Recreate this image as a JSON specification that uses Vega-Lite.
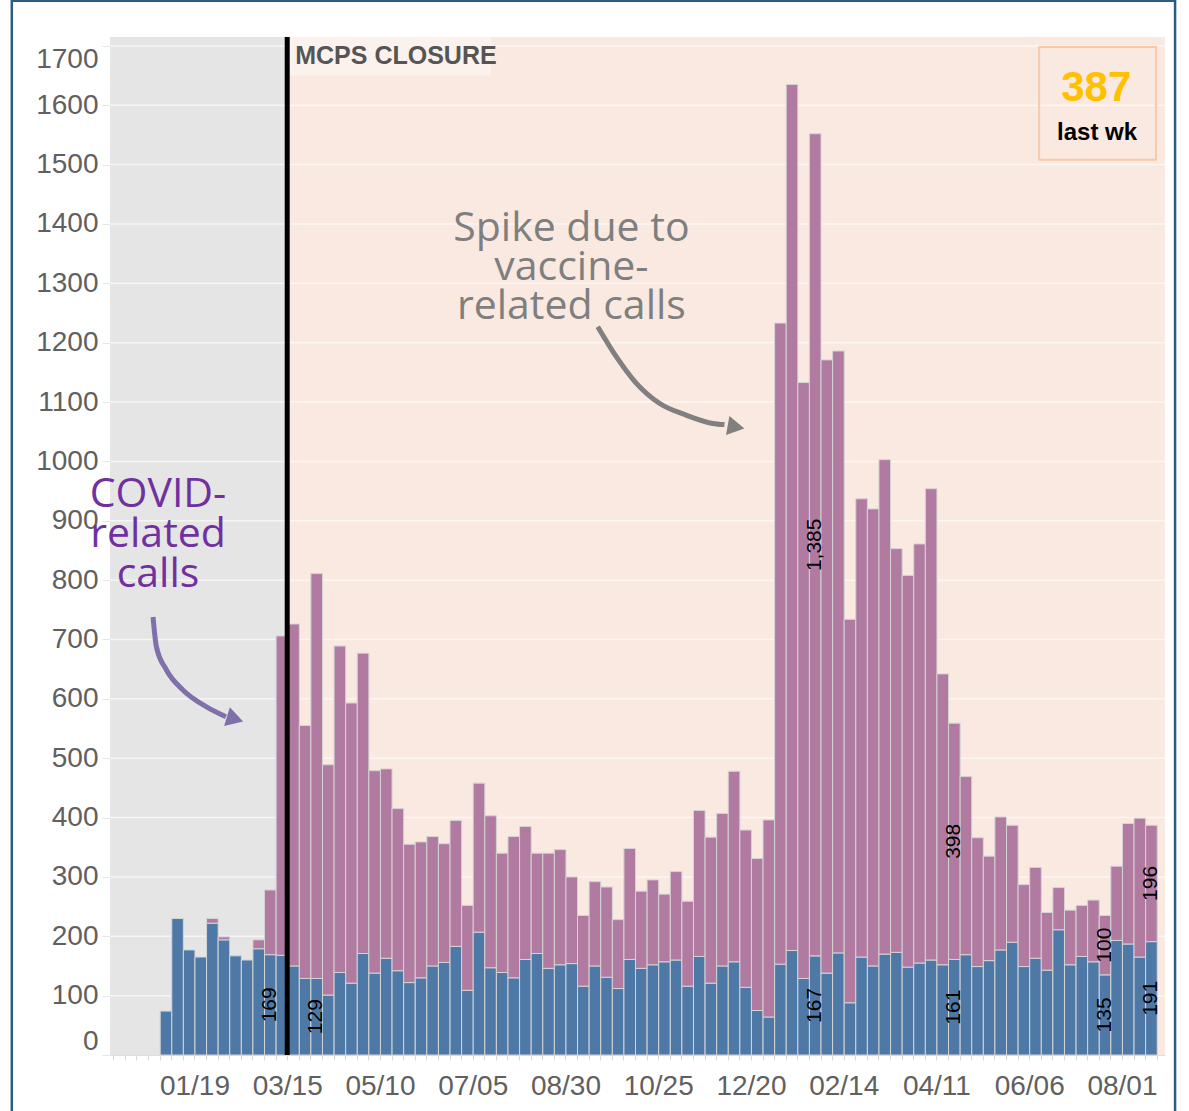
{
  "$schema": "https://vega.github.io/schema/vega-lite/v6.json",
  "width": 1055,
  "height": 1018,
  "autosize": {"type": "none"},
  "padding": {"left": 110, "top": 37, "right": 24, "bottom": 56},
  "background": "white",
  "config": {"view": {"stroke": null}},
  "datasets": {
    "calls": [
      {"week": "2019-12-29", "type": "Other", "calls": 74},
      {"week": "2020-01-05", "type": "Other", "calls": 230},
      {"week": "2020-01-12", "type": "Other", "calls": 177},
      {"week": "2020-01-19", "type": "Other", "calls": 165},
      {"week": "2020-01-26", "type": "Other", "calls": 222},
      {"week": "2020-01-26", "type": "COVID-related", "calls": 8},
      {"week": "2020-02-02", "type": "Other", "calls": 194},
      {"week": "2020-02-02", "type": "COVID-related", "calls": 5},
      {"week": "2020-02-09", "type": "Other", "calls": 167},
      {"week": "2020-02-16", "type": "Other", "calls": 160},
      {"week": "2020-02-23", "type": "Other", "calls": 179},
      {"week": "2020-02-23", "type": "COVID-related", "calls": 15},
      {"week": "2020-03-01", "type": "Other", "calls": 169, "lab": 1},
      {"week": "2020-03-01", "type": "COVID-related", "calls": 109},
      {"week": "2020-03-08", "type": "Other", "calls": 168},
      {"week": "2020-03-08", "type": "COVID-related", "calls": 538},
      {"week": "2020-03-15", "type": "Other", "calls": 150},
      {"week": "2020-03-15", "type": "COVID-related", "calls": 576},
      {"week": "2020-03-22", "type": "Other", "calls": 129},
      {"week": "2020-03-22", "type": "COVID-related", "calls": 426},
      {"week": "2020-03-29", "type": "Other", "calls": 129, "lab": 1},
      {"week": "2020-03-29", "type": "COVID-related", "calls": 682},
      {"week": "2020-04-05", "type": "Other", "calls": 101},
      {"week": "2020-04-05", "type": "COVID-related", "calls": 388},
      {"week": "2020-04-12", "type": "Other", "calls": 139},
      {"week": "2020-04-12", "type": "COVID-related", "calls": 550},
      {"week": "2020-04-19", "type": "Other", "calls": 121},
      {"week": "2020-04-19", "type": "COVID-related", "calls": 472},
      {"week": "2020-04-26", "type": "Other", "calls": 171},
      {"week": "2020-04-26", "type": "COVID-related", "calls": 506},
      {"week": "2020-05-03", "type": "Other", "calls": 138},
      {"week": "2020-05-03", "type": "COVID-related", "calls": 341},
      {"week": "2020-05-10", "type": "Other", "calls": 163},
      {"week": "2020-05-10", "type": "COVID-related", "calls": 319},
      {"week": "2020-05-17", "type": "Other", "calls": 142},
      {"week": "2020-05-17", "type": "COVID-related", "calls": 273},
      {"week": "2020-05-24", "type": "Other", "calls": 122},
      {"week": "2020-05-24", "type": "COVID-related", "calls": 233},
      {"week": "2020-05-31", "type": "Other", "calls": 130},
      {"week": "2020-05-31", "type": "COVID-related", "calls": 229},
      {"week": "2020-06-07", "type": "Other", "calls": 150},
      {"week": "2020-06-07", "type": "COVID-related", "calls": 218},
      {"week": "2020-06-14", "type": "Other", "calls": 156},
      {"week": "2020-06-14", "type": "COVID-related", "calls": 200},
      {"week": "2020-06-21", "type": "Other", "calls": 183},
      {"week": "2020-06-21", "type": "COVID-related", "calls": 212},
      {"week": "2020-06-28", "type": "Other", "calls": 109},
      {"week": "2020-06-28", "type": "COVID-related", "calls": 143},
      {"week": "2020-07-05", "type": "Other", "calls": 207},
      {"week": "2020-07-05", "type": "COVID-related", "calls": 251},
      {"week": "2020-07-12", "type": "Other", "calls": 147},
      {"week": "2020-07-12", "type": "COVID-related", "calls": 256},
      {"week": "2020-07-19", "type": "Other", "calls": 139},
      {"week": "2020-07-19", "type": "COVID-related", "calls": 201},
      {"week": "2020-07-26", "type": "Other", "calls": 130},
      {"week": "2020-07-26", "type": "COVID-related", "calls": 238},
      {"week": "2020-08-02", "type": "Other", "calls": 161},
      {"week": "2020-08-02", "type": "COVID-related", "calls": 224},
      {"week": "2020-08-09", "type": "Other", "calls": 171},
      {"week": "2020-08-09", "type": "COVID-related", "calls": 169},
      {"week": "2020-08-16", "type": "Other", "calls": 146},
      {"week": "2020-08-16", "type": "COVID-related", "calls": 194},
      {"week": "2020-08-23", "type": "Other", "calls": 152},
      {"week": "2020-08-23", "type": "COVID-related", "calls": 194},
      {"week": "2020-08-30", "type": "Other", "calls": 154},
      {"week": "2020-08-30", "type": "COVID-related", "calls": 146},
      {"week": "2020-09-06", "type": "Other", "calls": 116},
      {"week": "2020-09-06", "type": "COVID-related", "calls": 119},
      {"week": "2020-09-13", "type": "Other", "calls": 150},
      {"week": "2020-09-13", "type": "COVID-related", "calls": 142},
      {"week": "2020-09-20", "type": "Other", "calls": 131},
      {"week": "2020-09-20", "type": "COVID-related", "calls": 152},
      {"week": "2020-09-27", "type": "Other", "calls": 112},
      {"week": "2020-09-27", "type": "COVID-related", "calls": 116},
      {"week": "2020-10-04", "type": "Other", "calls": 161},
      {"week": "2020-10-04", "type": "COVID-related", "calls": 187},
      {"week": "2020-10-11", "type": "Other", "calls": 146},
      {"week": "2020-10-11", "type": "COVID-related", "calls": 130},
      {"week": "2020-10-18", "type": "Other", "calls": 152},
      {"week": "2020-10-18", "type": "COVID-related", "calls": 143},
      {"week": "2020-10-25", "type": "Other", "calls": 157},
      {"week": "2020-10-25", "type": "COVID-related", "calls": 114},
      {"week": "2020-11-01", "type": "Other", "calls": 160},
      {"week": "2020-11-01", "type": "COVID-related", "calls": 149},
      {"week": "2020-11-08", "type": "Other", "calls": 116},
      {"week": "2020-11-08", "type": "COVID-related", "calls": 143},
      {"week": "2020-11-15", "type": "Other", "calls": 166},
      {"week": "2020-11-15", "type": "COVID-related", "calls": 246},
      {"week": "2020-11-22", "type": "Other", "calls": 121},
      {"week": "2020-11-22", "type": "COVID-related", "calls": 246},
      {"week": "2020-11-29", "type": "Other", "calls": 150},
      {"week": "2020-11-29", "type": "COVID-related", "calls": 257},
      {"week": "2020-12-06", "type": "Other", "calls": 157},
      {"week": "2020-12-06", "type": "COVID-related", "calls": 321},
      {"week": "2020-12-13", "type": "Other", "calls": 114},
      {"week": "2020-12-13", "type": "COVID-related", "calls": 265},
      {"week": "2020-12-20", "type": "Other", "calls": 75},
      {"week": "2020-12-20", "type": "COVID-related", "calls": 256},
      {"week": "2020-12-27", "type": "Other", "calls": 64},
      {"week": "2020-12-27", "type": "COVID-related", "calls": 332},
      {"week": "2021-01-03", "type": "Other", "calls": 153},
      {"week": "2021-01-03", "type": "COVID-related", "calls": 1080},
      {"week": "2021-01-10", "type": "Other", "calls": 176},
      {"week": "2021-01-10", "type": "COVID-related", "calls": 1459},
      {"week": "2021-01-17", "type": "Other", "calls": 129},
      {"week": "2021-01-17", "type": "COVID-related", "calls": 1004},
      {"week": "2021-01-24", "type": "Other", "calls": 167, "lab": 1},
      {"week": "2021-01-24", "type": "COVID-related", "calls": 1385, "lab": 1},
      {"week": "2021-01-31", "type": "Other", "calls": 138},
      {"week": "2021-01-31", "type": "COVID-related", "calls": 1033},
      {"week": "2021-02-07", "type": "Other", "calls": 172},
      {"week": "2021-02-07", "type": "COVID-related", "calls": 1014},
      {"week": "2021-02-14", "type": "Other", "calls": 88},
      {"week": "2021-02-14", "type": "COVID-related", "calls": 646},
      {"week": "2021-02-21", "type": "Other", "calls": 165},
      {"week": "2021-02-21", "type": "COVID-related", "calls": 772},
      {"week": "2021-02-28", "type": "Other", "calls": 150},
      {"week": "2021-02-28", "type": "COVID-related", "calls": 770},
      {"week": "2021-03-07", "type": "Other", "calls": 170},
      {"week": "2021-03-07", "type": "COVID-related", "calls": 833},
      {"week": "2021-03-14", "type": "Other", "calls": 173},
      {"week": "2021-03-14", "type": "COVID-related", "calls": 680},
      {"week": "2021-03-21", "type": "Other", "calls": 148},
      {"week": "2021-03-21", "type": "COVID-related", "calls": 660},
      {"week": "2021-03-28", "type": "Other", "calls": 155},
      {"week": "2021-03-28", "type": "COVID-related", "calls": 706},
      {"week": "2021-04-04", "type": "Other", "calls": 160},
      {"week": "2021-04-04", "type": "COVID-related", "calls": 794},
      {"week": "2021-04-11", "type": "Other", "calls": 152},
      {"week": "2021-04-11", "type": "COVID-related", "calls": 490},
      {"week": "2021-04-18", "type": "Other", "calls": 161, "lab": 1},
      {"week": "2021-04-18", "type": "COVID-related", "calls": 398, "lab": 1},
      {"week": "2021-04-25", "type": "Other", "calls": 169},
      {"week": "2021-04-25", "type": "COVID-related", "calls": 300},
      {"week": "2021-05-02", "type": "Other", "calls": 149},
      {"week": "2021-05-02", "type": "COVID-related", "calls": 217},
      {"week": "2021-05-09", "type": "Other", "calls": 159},
      {"week": "2021-05-09", "type": "COVID-related", "calls": 176},
      {"week": "2021-05-16", "type": "Other", "calls": 177},
      {"week": "2021-05-16", "type": "COVID-related", "calls": 224},
      {"week": "2021-05-23", "type": "Other", "calls": 190},
      {"week": "2021-05-23", "type": "COVID-related", "calls": 197},
      {"week": "2021-05-30", "type": "Other", "calls": 149},
      {"week": "2021-05-30", "type": "COVID-related", "calls": 138},
      {"week": "2021-06-06", "type": "Other", "calls": 163},
      {"week": "2021-06-06", "type": "COVID-related", "calls": 153},
      {"week": "2021-06-13", "type": "Other", "calls": 143},
      {"week": "2021-06-13", "type": "COVID-related", "calls": 97},
      {"week": "2021-06-20", "type": "Other", "calls": 211},
      {"week": "2021-06-20", "type": "COVID-related", "calls": 71},
      {"week": "2021-06-27", "type": "Other", "calls": 152},
      {"week": "2021-06-27", "type": "COVID-related", "calls": 92},
      {"week": "2021-07-04", "type": "Other", "calls": 166},
      {"week": "2021-07-04", "type": "COVID-related", "calls": 86},
      {"week": "2021-07-11", "type": "Other", "calls": 157},
      {"week": "2021-07-11", "type": "COVID-related", "calls": 104},
      {"week": "2021-07-18", "type": "Other", "calls": 135, "lab": 1},
      {"week": "2021-07-18", "type": "COVID-related", "calls": 100, "lab": 1},
      {"week": "2021-07-25", "type": "Other", "calls": 193},
      {"week": "2021-07-25", "type": "COVID-related", "calls": 125},
      {"week": "2021-08-01", "type": "Other", "calls": 187},
      {"week": "2021-08-01", "type": "COVID-related", "calls": 203},
      {"week": "2021-08-08", "type": "Other", "calls": 165},
      {"week": "2021-08-08", "type": "COVID-related", "calls": 234},
      {"week": "2021-08-15", "type": "Other", "calls": 191, "lab": 1},
      {"week": "2021-08-15", "type": "COVID-related", "calls": 196, "lab": 1}
    ],
    "grid": [
      {"v": 100}, {"v": 200}, {"v": 300}, {"v": 400}, {"v": 500}, {"v": 600},
      {"v": 700}, {"v": 800}, {"v": 900}, {"v": 1000}, {"v": 1100}, {"v": 1200},
      {"v": 1300}, {"v": 1400}, {"v": 1500}, {"v": 1600}, {"v": 1700}
    ]
  },
  "layer": [
    {
      "data": {"values": [
        {"zone": "pre", "from": "2019-11-29", "to": "2020-03-15"},
        {"zone": "post", "from": "2020-03-15", "to": "2021-08-27"}
      ]},
      "mark": {"type": "rect"},
      "encoding": {
        "x": {
          "field": "from", "type": "temporal",
          "scale": {"type": "utc", "domain": [
            {"year": 2019, "month": "nov", "date": 29, "utc": true},
            {"year": 2021, "month": "aug", "date": 27, "utc": true}
          ]},
          "axis": {
            "title": null, "grid": false, "domain": true, "domainColor": "#dedede", "domainWidth": 1,
            "ticks": true, "tickColor": "#d8d8d8", "tickSize": 5,
            "tickCount": {"interval": "week", "step": 1},
            "labelExpr": "(+datum.value - utc(2020,0,19)) % 4838400000 === 0 ? utcFormat(datum.value, '%m/%d') : ''",
            "labelFont": "Liberation Sans", "labelFontSize": 28, "labelColor": "#606060",
            "labelPadding": 12, "labelOverlap": false, "labelFlush": false, "labelBound": false
          }
        },
        "x2": {"field": "to"},
        "y": {
          "datum": 1715, "type": "quantitative",
          "scale": {"domain": [0, 1715], "nice": false, "zero": true},
          "axis": {
            "title": null, "grid": false, "domain": false, "format": "d",
            "values": [0, 100, 200, 300, 400, 500, 600, 700, 800, 900, 1000, 1100, 1200, 1300, 1400, 1500, 1600, 1700],
            "tickColor": "#e6e6e6", "tickSize": 8,
            "labelFont": "Liberation Sans", "labelFontSize": 28, "labelColor": "#606060",
            "labelPadding": 4, "labelFlush": 12
          }
        },
        "y2": {"datum": 0},
        "color": {"condition": {"test": "datum.zone === 'pre'", "value": "#e5e5e5"}, "value": "#f9e9e1"}
      }
    },
    {
      "data": {"name": "grid"},
      "mark": {"type": "rule", "color": "white", "opacity": 0.6, "strokeWidth": 1.5},
      "encoding": {"y": {"field": "v", "type": "quantitative"}}
    },
    {
      "data": {"values": [{"from": "2020-03-15", "to": "2020-07-16"}]},
      "mark": {"type": "rect", "color": "#fcf2ed"},
      "encoding": {
        "x": {"field": "from", "type": "temporal"},
        "x2": {"field": "to"},
        "y": {"datum": 1715, "type": "quantitative"},
        "y2": {"datum": 1650}
      }
    },
    {
      "data": {"name": "calls"},
      "mark": {"type": "bar", "stroke": "#d4d4d4", "strokeWidth": 1, "binSpacing": 0},
      "encoding": {
        "x": {"field": "week", "timeUnit": "utcyearweek", "type": "temporal"},
        "y": {"field": "calls", "type": "quantitative", "stack": "zero"},
        "color": {
          "field": "type", "type": "nominal",
          "scale": {"domain": ["Other", "COVID-related"], "range": ["#4e79a7", "#b07aa1"]},
          "legend": null
        },
        "order": {"field": "type", "type": "nominal", "sort": "descending"}
      }
    },
    {
      "data": {"name": "calls"},
      "mark": {"type": "text", "angle": 270, "font": "Liberation Sans Narrow, Liberation Sans", "fontSize": 21, "color": "black", "align": "center", "baseline": "middle"},
      "encoding": {
        "x": {"field": "week", "timeUnit": "utcyearweek", "type": "temporal", "bandPosition": 0.5},
        "y": {"field": "calls", "type": "quantitative", "stack": "zero", "bandPosition": 0.5},
        "detail": {"field": "type", "type": "nominal"},
        "order": {"field": "type", "type": "nominal", "sort": "descending"},
        "text": {"condition": {"test": "datum.lab === 1", "field": "calls", "type": "quantitative", "format": ","}, "value": ""}
      }
    },
    {
      "data": {"values": [{"d": "2020-03-15"}]},
      "mark": {"type": "rule", "color": "black", "strokeWidth": 5},
      "encoding": {"x": {"field": "d", "type": "temporal"}}
    },
    {
      "data": {"values": [{"d": "2020-03-15", "t": "MCPS CLOSURE", "v": 1683}]},
      "mark": {"type": "text", "align": "left", "baseline": "middle", "dx": 8, "font": "Liberation Sans Narrow, Liberation Sans", "fontWeight": "bold", "fontSize": 25, "color": "#555555"},
      "encoding": {
        "x": {"field": "d", "type": "temporal"},
        "y": {"field": "v", "type": "quantitative"},
        "text": {"field": "t"}
      }
    },
    {
      "data": {"values": [{"from": "2021-06-12", "to": "2021-08-21T14:00:00Z"}]},
      "mark": {"type": "rect", "filled": false, "color": "#f8cba8", "strokeWidth": 2},
      "encoding": {
        "x": {"field": "from", "type": "temporal"},
        "x2": {"field": "to"},
        "y": {"datum": 1698, "type": "quantitative"},
        "y2": {"datum": 1508}
      }
    },
    {
      "data": {"values": [{"d": "2021-07-16T12:00:00Z", "t": "387", "v": 1629}]},
      "mark": {"type": "text", "align": "center", "baseline": "middle", "font": "Liberation Sans", "fontWeight": "bold", "fontSize": 42, "color": "#ffc000"},
      "encoding": {
        "x": {"field": "d", "type": "temporal"},
        "y": {"field": "v", "type": "quantitative"},
        "text": {"field": "t"}
      }
    },
    {
      "data": {"values": [{"d": "2021-07-17", "t": "last wk", "v": 1553}]},
      "mark": {"type": "text", "align": "center", "baseline": "middle", "font": "Liberation Sans Narrow, Liberation Sans", "fontWeight": "bold", "fontSize": 24, "color": "black"},
      "encoding": {
        "x": {"field": "d", "type": "temporal"},
        "y": {"field": "v", "type": "quantitative"},
        "text": {"field": "t"}
      }
    },
    {
      "data": {"values": [{"d": "2020-09-02T14:00:00Z", "t": "Spike due to\nvaccine-\nrelated calls", "v": 1391}]},
      "mark": {"type": "text", "align": "center", "baseline": "middle", "lineBreak": "\n", "lineHeight": 39, "font": "Open Sans", "fontSize": 41, "color": "#7f7f7f"},
      "encoding": {
        "x": {"field": "d", "type": "temporal"},
        "y": {"field": "v", "type": "quantitative"},
        "text": {"field": "t"}
      }
    },
    {
      "data": {"values": [{"d": "2019-12-28", "t": "COVID-\nrelated\ncalls", "v": 943}]},
      "mark": {"type": "text", "align": "center", "baseline": "middle", "lineBreak": "\n", "lineHeight": 40, "font": "Open Sans", "fontSize": 41, "color": "#7030a0"},
      "encoding": {
        "x": {"field": "d", "type": "temporal"},
        "y": {"field": "v", "type": "quantitative"},
        "text": {"field": "t"}
      }
    },
    {
      "data": {"values": [
        {"d": "2020-09-18T12:00:00Z", "v": 1227},
        {"d": "2020-09-29T14:00:00Z", "v": 1177},
        {"d": "2020-10-11T17:00:00Z", "v": 1132},
        {"d": "2020-10-25T17:00:00Z", "v": 1098},
        {"d": "2020-11-10T19:00:00Z", "v": 1078},
        {"d": "2020-11-26T22:00:00Z", "v": 1064},
        {"d": "2020-12-04", "v": 1062}
      ]},
      "mark": {"type": "line", "interpolate": "monotone", "color": "#808080", "strokeWidth": 5},
      "encoding": {
        "x": {"field": "d", "type": "temporal"},
        "y": {"field": "v", "type": "quantitative"}
      }
    },
    {
      "data": {"values": [{"d": "2020-12-11", "v": 1058}]},
      "mark": {"type": "point", "shape": "triangle-right", "filled": true, "size": 380, "angle": 10, "color": "#808080", "opacity": 1},
      "encoding": {
        "x": {"field": "d", "type": "temporal"},
        "y": {"field": "v", "type": "quantitative"}
      }
    },
    {
      "data": {"values": [
        {"d": "2019-12-25", "v": 738},
        {"d": "2019-12-27", "v": 688},
        {"d": "2020-01-02", "v": 649},
        {"d": "2020-01-12", "v": 615},
        {"d": "2020-01-26", "v": 587},
        {"d": "2020-02-07", "v": 570}
      ]},
      "mark": {"type": "line", "interpolate": "monotone", "color": "#8070aa", "strokeWidth": 5},
      "encoding": {
        "x": {"field": "d", "type": "temporal"},
        "y": {"field": "v", "type": "quantitative"}
      }
    },
    {
      "data": {"values": [{"d": "2020-02-12T12:00:00Z", "v": 566}]},
      "mark": {"type": "point", "shape": "triangle-right", "filled": true, "size": 380, "angle": 17, "color": "#8070aa", "opacity": 1},
      "encoding": {
        "x": {"field": "d", "type": "temporal"},
        "y": {"field": "v", "type": "quantitative"}
      }
    },
    {
      "data": {"values": [{"from": "2019-09-30T17:00:00Z", "to": "2021-09-02T02:00:00Z"}]},
      "mark": {"type": "rect", "filled": false, "color": "#2c5b80", "strokeWidth": 2.5},
      "encoding": {
        "x": {"field": "from", "type": "temporal"},
        "x2": {"field": "to"},
        "y": {"datum": 1776, "type": "quantitative"},
        "y2": {"datum": -120}
      }
    }
  ]
}
